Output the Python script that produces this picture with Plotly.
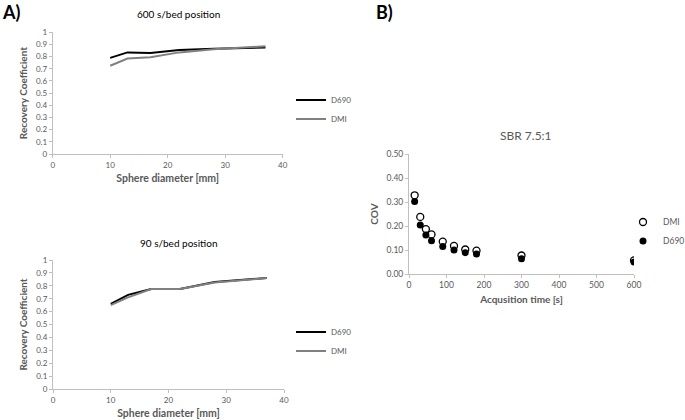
import plotly.graph_objects as go

# -- datos
diametro = [10, 13, 17, 22, 28, 37]
rc600_d690 = [0.79, 0.835, 0.83, 0.855, 0.865, 0.875]
rc600_dmi = [0.725, 0.785, 0.795, 0.835, 0.86, 0.885]
rc90_d690 = [0.66, 0.73, 0.775, 0.775, 0.83, 0.86]
rc90_dmi = [0.65, 0.71, 0.775, 0.775, 0.825, 0.86]

tiempo = [15, 30, 45, 60, 90, 120, 150, 180, 300, 600]
cov_dmi = [0.328, 0.238, 0.187, 0.165, 0.135, 0.117, 0.102, 0.097, 0.077, 0.057]
cov_d690 = [0.302, 0.204, 0.162, 0.139, 0.115, 0.100, 0.089, 0.083, 0.064, 0.050]

W, H = 685, 420
FONT = "Lato"
GRIS = "#595959"
EJE = "#bfbfbf"


def px(x):
    return x / W


def py(y):
    return 1 - y / H


fig = go.Figure()

# -- panel A arriba
fig.add_trace(go.Scatter(x=diametro, y=rc600_d690, mode='lines', name='D690',
                         line=dict(color='black', width=2), xaxis='x', yaxis='y', legend='legend'))
fig.add_trace(go.Scatter(x=diametro, y=rc600_dmi, mode='lines', name='DMI',
                         line=dict(color='#808080', width=2), xaxis='x', yaxis='y', legend='legend'))
# -- panel A abajo
fig.add_trace(go.Scatter(x=diametro, y=rc90_d690, mode='lines', name='D690',
                         line=dict(color='black', width=2), xaxis='x2', yaxis='y2', legend='legend2'))
fig.add_trace(go.Scatter(x=diametro, y=rc90_dmi, mode='lines', name='DMI',
                         line=dict(color='#808080', width=2), xaxis='x2', yaxis='y2', legend='legend2'))
# -- panel B
fig.add_trace(go.Scatter(x=tiempo, y=cov_dmi, mode='markers', name='DMI',
                         marker=dict(symbol='circle-open', color='black', size=7, line=dict(width=1.3)),
                         xaxis='x3', yaxis='y3', legend='legend3'))
fig.add_trace(go.Scatter(x=tiempo, y=cov_d690, mode='markers', name='D690',
                         marker=dict(symbol='circle', color='black', size=7),
                         xaxis='x3', yaxis='y3', legend='legend3'))


def eje(dominio, rango, dtick, titulo, fmt=None, anchor=None, tick=8, tit=10):
    d = dict(domain=dominio, range=rango, dtick=dtick, tick0=0, showgrid=False, zeroline=False,
             showline=True, linecolor=EJE, linewidth=1, ticks='outside', ticklen=3, tickcolor=EJE,
             tickfont=dict(size=tick, color=GRIS, family=FONT),
             title=dict(text=titulo, font=dict(size=tit, color=GRIS, family=FONT), standoff=6),
             anchor=anchor, fixedrange=True)
    if fmt:
        d['tickformat'] = fmt
    return d


ytit_a = "<b>Recovery Coefficient</b>"
xtit_a = "<b>Sphere diameter [mm]</b>"

fig.update_layout(
    width=W, height=H,
    margin=dict(l=0, r=0, t=0, b=0, autoexpand=False),
    paper_bgcolor='white', plot_bgcolor='white',
    font=dict(family=FONT, color=GRIS),
    xaxis=eje([px(52.7), px(282.7)], [0, 40], 10, xtit_a, anchor='y', tit=10.5),
    yaxis=eje([py(154), py(32.3)], [0, 1], 0.1, ytit_a, anchor='x'),
    xaxis2=eje([px(53), px(284)], [0, 40], 10, xtit_a, anchor='y2', tit=10.5),
    yaxis2=eje([py(389), py(260)], [0, 1], 0.1, ytit_a, anchor='x2'),
    xaxis3=eje([px(409), px(634)], [0, 600], 100, "<b>Acqusition time [s]</b>", anchor='y3',
               tick=8.5, tit=10),
    yaxis3=eje([py(274), py(154)], [0, 0.5], 0.1, "<b>COV</b>", fmt='.2f', anchor='x3',
               tick=8.5, tit=10),
    legend=dict(x=px(291), y=py(109.5), xanchor='left', yanchor='middle', bgcolor='rgba(0,0,0,0)',
                font=dict(size=8, color=GRIS, family=FONT), itemwidth=30, tracegroupgap=0),
    legend2=dict(x=px(291), y=py(341.5), xanchor='left', yanchor='middle', bgcolor='rgba(0,0,0,0)',
                 font=dict(size=8, color=GRIS, family=FONT), itemwidth=30, tracegroupgap=0),
    legend3=dict(x=px(623), y=py(231.5), xanchor='left', yanchor='middle', bgcolor='rgba(0,0,0,0)',
                 font=dict(size=8.5, color=GRIS, family=FONT), itemwidth=30, tracegroupgap=0),
    showlegend=True,
)

anot = [
    dict(text="<b>A)</b>", x=px(0), y=py(12), xanchor='left', font=dict(size=18, color='black')),
    dict(text="<b>B)</b>", x=px(384), y=py(12), xanchor='center', font=dict(size=18, color='black')),
    dict(text="600 s/bed position", x=px(178), y=py(14), xanchor='center',
         font=dict(size=10, color='black')),
    dict(text="90 s/bed position", x=px(178), y=py(243), xanchor='center',
         font=dict(size=10, color='black')),
    dict(text="SBR 7.5:1", x=px(526), y=py(135), xanchor='center', font=dict(size=12, color=GRIS)),
]
for a in anot:
    fig.add_annotation(xref='paper', yref='paper', showarrow=False, yanchor='middle', **a)

# el body trae 8px de margen por defecto
fig.write_html("out.html", config=dict(displayModeBar=False),
               post_script="document.body.style.margin='0';")
